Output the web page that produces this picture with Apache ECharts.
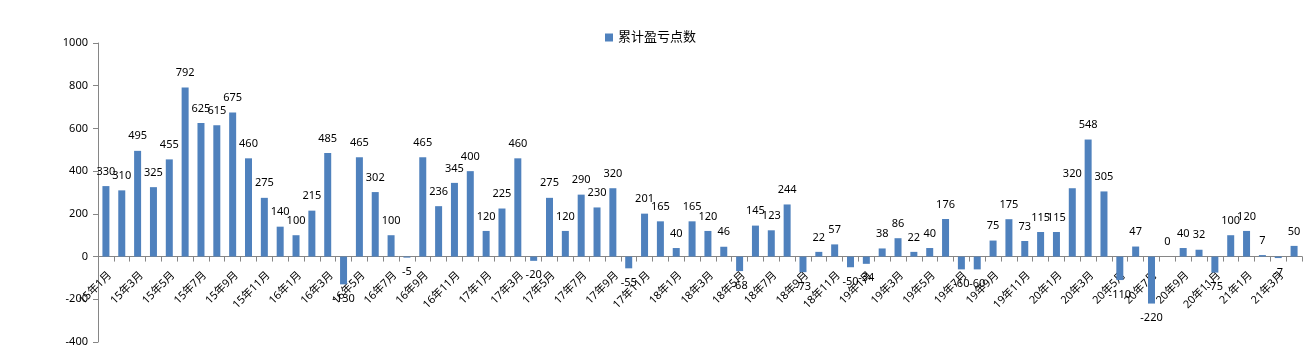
<!DOCTYPE html>
<html>
<head>
<meta charset="utf-8">
<script src="https://cdn.jsdelivr.net/npm/echarts@6/dist/echarts.min.js"></script>
<style>
html,body{margin:0;padding:0;background:#fff;}
#c{width:1307px;height:354px;}
</style>
</head>
<body>
<div id="c"></div>
<script>
var seriesName = '累计盈亏点数';
var categories = [
 '15年1月','15年2月','15年3月','15年4月','15年5月','15年6月','15年7月','15年8月','15年9月','15年10月','15年11月','15年12月',
 '16年1月','16年2月','16年3月','16年4月','16年5月','16年6月','16年7月','16年8月','16年9月','16年10月','16年11月','16年12月',
 '17年1月','17年2月','17年3月','17年4月','17年5月','17年6月','17年7月','17年8月','17年9月','17年10月','17年11月','17年12月',
 '18年1月','18年2月','18年3月','18年4月','18年5月','18年6月','18年7月','18年8月','18年9月','18年10月','18年11月','18年12月',
 '19年1月','19年2月','19年3月','19年4月','19年5月','19年6月','19年7月','19年8月','19年9月','19年10月','19年11月','19年12月',
 '20年1月','20年2月','20年3月','20年4月','20年5月','20年6月','20年7月','20年8月','20年9月','20年10月','20年11月','20年12月',
 '21年1月','21年2月','21年3月','21年4月'
];
var values = [
 330,310,495,325,455,792,625,615,675,460,275,140,
 100,215,485,-130,465,302,100,-5,465,236,345,400,
 120,225,460,-20,275,120,290,230,320,-55,201,165,
 40,165,120,46,-68,145,123,244,-73,22,57,-50,
 -34,38,86,22,40,176,-60,-60,75,175,73,115,
 115,320,548,305,-110,47,-220,0,40,32,-75,100,
 120,7,-7,50
];
var yMin = -400, yMax = 1000, yStep = 200;

var FONT = '"Noto Sans","Noto Sans CJK SC",sans-serif';
var GRID_TOP = 43, GRID_BOTTOM = 12, H = 354;
var plotH = H - GRID_TOP - GRID_BOTTOM;
// move category axis from the grid bottom up to the zero line
var zeroOffset = -plotH * (0 - yMin) / (yMax - yMin);

var chart = echarts.init(document.getElementById('c'), null, {renderer:'canvas'});
var data = values.map(function(v){
  return {value: v, label: {position: v < 0 ? 'bottom' : 'top'}};
});
chart.setOption({
  animation: false,
  backgroundColor: '#ffffff',
  legend: {
    data: [seriesName],
    left: 600, top: 26,
    itemWidth: 8, itemHeight: 8,
    icon: 'rect',
    textStyle: {fontSize: 13, color: '#000', fontFamily: FONT}
  },
  grid: {left: 98, right: 5, top: GRID_TOP, bottom: GRID_BOTTOM, containLabel: false, outerBoundsMode: 'none'},
  xAxis: {
    type: 'category',
    data: categories,
    boundaryGap: true,
    offset: zeroOffset,
    axisLine: {onZero: false, lineStyle: {color: '#868686', width: 1}},
    axisTick: {show: true, interval: 0, length: 5, lineStyle: {color: '#868686'}},
    axisLabel: {interval: 1, rotate: 45, margin: 13, align: 'right', verticalAlign: 'top',
      fontSize: 11, color: '#000', fontFamily: FONT}
  },
  yAxis: {
    type: 'value',
    min: yMin, max: yMax, interval: yStep,
    axisLine: {show: true, lineStyle: {color: '#868686', width: 1}},
    axisTick: {show: true, length: 5, lineStyle: {color: '#868686'}},
    axisLabel: {margin: 10, fontSize: 11, color: '#000', fontFamily: FONT,
      formatter: function(v){ return String(v); }},
    splitLine: {show: false}
  },
  series: [{
    name: seriesName,
    type: 'bar',
    data: data,
    barWidth: 7,
    itemStyle: {color: '#4F81BD'},
    label: {show: true, distance: 9, fontSize: 11, color: '#000', fontFamily: FONT}
  }]
});
</script>
</body>
</html>
